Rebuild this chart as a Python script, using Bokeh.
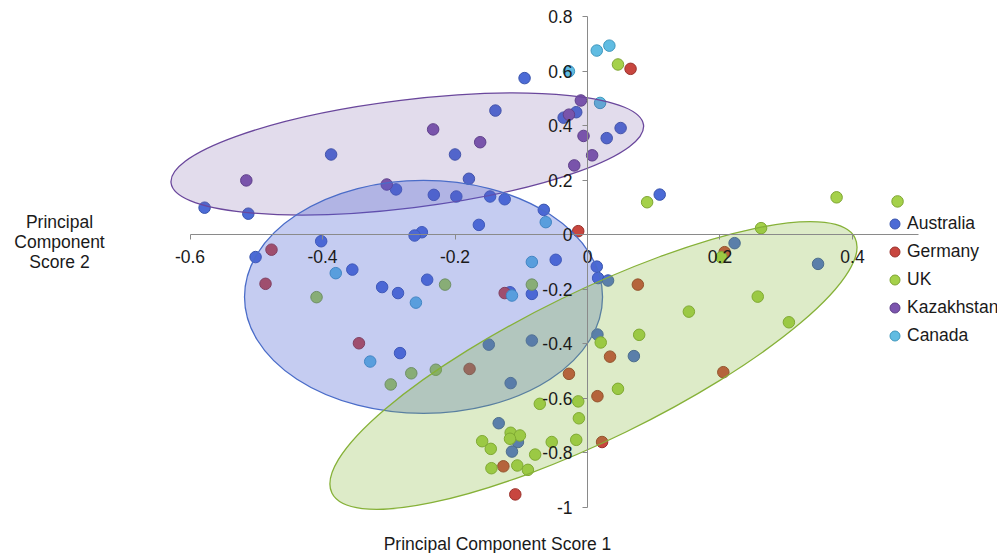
from bokeh.plotting import figure
from bokeh.models import (Range1d, LinearAxis, FixedTicker, CustomJSTickFormatter,
                          Legend, LegendItem, Label)
from bokeh.embed import file_html
from bokeh.resources import INLINE

# ---------------------------------------------------------------- data
countries = ["Australia", "Germany", "UK", "Kazakhstan", "Canada"]

australia_pc1 = [-0.095, -0.139, -0.036, -0.017, 0.050, 0.029, -0.387, -0.200,
                 -0.179, -0.289, -0.232, -0.198, -0.147, -0.125, -0.578, -0.512,
                 -0.066, -0.164, -0.250, -0.261, -0.402, -0.501, -0.355, -0.310,
                 -0.286, -0.242, -0.048, -0.084, -0.117, 0.014, 0.016, 0.031,
                 -0.283, -0.149, -0.084, -0.116, 0.015, 0.070, -0.134, -0.105,
                 -0.114, 0.109, 0.222, 0.348]
australia_pc2 = [0.574, 0.455, 0.429, 0.449, 0.391, 0.354, 0.294, 0.294,
                 0.205, 0.166, 0.146, 0.140, 0.140, 0.130, 0.099, 0.077,
                 0.091, 0.036, 0.009, -0.003, -0.024, -0.082, -0.128, -0.192,
                 -0.214, -0.165, -0.092, -0.217, -0.211, -0.117, -0.159, -0.168,
                 -0.434, -0.403, -0.388, -0.544, -0.366, -0.445, -0.691, -0.760,
                 -0.795, 0.147, -0.031, -0.107]

germany_pc1 = [0.065, -0.014, -0.477, -0.486, -0.125, -0.345, -0.178, 0.034,
               -0.028, 0.015, 0.076, 0.207, 0.205, 0.022, -0.127, -0.109]
germany_pc2 = [0.608, 0.013, -0.055, -0.180, -0.214, -0.398, -0.492, -0.447,
               -0.510, -0.592, -0.183, -0.064, -0.504, -0.760, -0.849, -0.952]

uk_pc1 = [0.046, 0.090, 0.376, 0.468, 0.262, 0.202, -0.409, -0.215,
          -0.084, -0.266, -0.229, -0.297, 0.020, 0.046, -0.014, -0.072,
          -0.013, 0.257, 0.153, 0.304, 0.078, -0.116, -0.102, -0.159,
          -0.117, -0.054, -0.017, -0.146, -0.079, -0.145, -0.106, -0.090]
uk_pc2 = [0.624, 0.119, 0.137, 0.122, 0.024, -0.083, -0.229, -0.183,
          -0.183, -0.508, -0.495, -0.549, -0.395, -0.565, -0.611, -0.620,
          -0.673, -0.227, -0.282, -0.321, -0.367, -0.726, -0.736, -0.757,
          -0.748, -0.760, -0.752, -0.785, -0.806, -0.856, -0.846, -0.862]

kazakhstan_pc1 = [-0.010, -0.028, -0.233, -0.006, -0.162, 0.007, -0.020, -0.515, -0.303]
kazakhstan_pc2 = [0.492, 0.440, 0.386, 0.362, 0.339, 0.291, 0.254, 0.199, 0.184]

canada_pc1 = [-0.028, 0.014, 0.033, 0.019, -0.063, -0.380, -0.259, -0.084, -0.114, -0.328]
canada_pc2 = [0.599, 0.675, 0.693, 0.483, 0.046, -0.141, -0.249, -0.100, -0.223, -0.465]

# group ellipses: centre, full width / height (data units), rotation in degrees
ellipse_groups = ["Kazakhstan", "Australia", "UK"]
ellipse_cx = [-0.272, -0.2475, 0.009]
ellipse_cy = [0.296, -0.228, -0.4795]
ellipse_w = [0.7185, 0.5404, 0.8785]
ellipse_h = [0.3959, 0.8541, 0.5425]
ellipse_angle = [7.0, 0.0, 26.0]

x_tick_values = [-0.6, -0.4, -0.2, 0.0, 0.2, 0.4]
x_tick_labels = ["-0.6", "-0.4", "-0.2", "0", "0.2", "0.4"]
y_tick_values = [0.8, 0.6, 0.4, 0.2, 0.0, -0.2, -0.4, -0.6, -0.8, -1.0]
y_tick_labels = ["0.8", "0.6", "0.4", "0.2", "0", "-0.2", "-0.4", "-0.6", "-0.8", "-1"]

# ---------------------------------------------------------------- styles
FONT = "Liberation Sans"
TEXT = "#1a1a1a"
AXIS = "#8a8a8a"
point_fill = {"Australia": "#4c6bd6", "Germany": "#c8463f", "UK": "#a5d14a",
              "Kazakhstan": "#7c55ae", "Canada": "#60bce2"}
point_line = {"Australia": "#3a55ad", "Germany": "#9a322c", "UK": "#7fa533",
              "Kazakhstan": "#5c3d86", "Canada": "#3f97bd"}
ellipse_fill = {"Kazakhstan": "#70509f", "Australia": "#4a60d2", "UK": "#82b432"}
ellipse_alpha = {"Kazakhstan": 0.2, "Australia": 0.32, "UK": 0.27}
ellipse_line = {"Kazakhstan": "#6a479c", "Australia": "#4a6cc8", "UK": "#86b138"}

p = figure(width=997, height=553,
           x_range=Range1d(-0.88604, 0.61887), y_range=Range1d(-1.16862, 0.85850),
           x_axis_type=None, y_axis_type=None, min_border=0,
           output_backend="svg", toolbar_location=None)
p.outline_line_color = None
p.background_fill_color = "white"
p.border_fill_color = "white"

# ---------------------------------------------------------------- points
series = {
    "Australia": (australia_pc1, australia_pc2),
    "Germany": (germany_pc1, germany_pc2),
    "UK": (uk_pc1, uk_pc2),
    "Kazakhstan": (kazakhstan_pc1, kazakhstan_pc2),
    "Canada": (canada_pc1, canada_pc2),
}
renderers = {}
for name in countries:
    xs, ys = series[name]
    renderers[name] = p.scatter(xs, ys, marker="circle", size=11.5,
                                fill_color=point_fill[name], line_color=point_line[name],
                                line_width=1)

# ---------------------------------------------------------------- ellipses (over the points)
for i, g in enumerate(ellipse_groups):
    p.ellipse(x=[ellipse_cx[i]], y=[ellipse_cy[i]], width=[ellipse_w[i]],
              height=[ellipse_h[i]], angle=[ellipse_angle[i]], angle_units="deg",
              fill_color=ellipse_fill[g], fill_alpha=ellipse_alpha[g],
              line_color=ellipse_line[g], line_width=1.3)

# ---------------------------------------------------------------- axes crossing at the origin
fmt_code = """
const i = vals.findIndex(v => Math.abs(v - tick) < 1e-9);
return i >= 0 ? labs[i] : "";
"""
xaxis = LinearAxis(fixed_location=0, bounds=(-0.6, 0.5),
                   ticker=FixedTicker(ticks=x_tick_values, minor_ticks=[]),
                   formatter=CustomJSTickFormatter(args=dict(vals=x_tick_values, labs=x_tick_labels),
                                                   code=fmt_code))
yaxis = LinearAxis(fixed_location=0, bounds=(-1.0, 0.8),
                   ticker=FixedTicker(ticks=y_tick_values, minor_ticks=[]),
                   formatter=CustomJSTickFormatter(args=dict(vals=y_tick_values, labs=y_tick_labels),
                                                   code=fmt_code))
for ax, standoff in ((xaxis, 10), (yaxis, 10)):
    ax.axis_line_color = AXIS
    ax.axis_line_width = 1
    ax.major_tick_line_color = AXIS
    ax.major_tick_out = 5
    ax.major_tick_in = 0
    ax.minor_tick_line_color = None
    ax.major_label_text_font = FONT
    ax.major_label_text_font_size = "17.5px"
    ax.major_label_text_color = TEXT
    ax.major_label_standoff = standoff
p.add_layout(xaxis, "below")
p.add_layout(yaxis, "left")

# ---------------------------------------------------------------- axis titles
def title(text, sx, sy):
    p.add_layout(Label(x=sx, y=553 - sy, x_units="screen", y_units="screen", text=text,
                       text_align="center", text_baseline="middle", text_font=FONT,
                       text_font_size="17.5px", text_color=TEXT))

title("Principal Component Score 1", 497, 543)
for line, sy in zip(["Principal", "Component", "Score 2"], [221, 241.5, 261.5]):
    title(line, 59, sy)

# ---------------------------------------------------------------- legend
legend = Legend(items=[LegendItem(label=n, renderers=[renderers[n]]) for n in countries],
                location=(882, 205), orientation="vertical",
                glyph_width=25, glyph_height=25, label_height=25, spacing=3,
                padding=0, margin=0, label_standoff=-7,
                border_line_color=None, background_fill_alpha=0,
                label_text_font=FONT, label_text_font_size="17.5px",
                label_text_color=TEXT)
p.add_layout(legend)

open("out.html", "w").write(file_html(p, INLINE))
